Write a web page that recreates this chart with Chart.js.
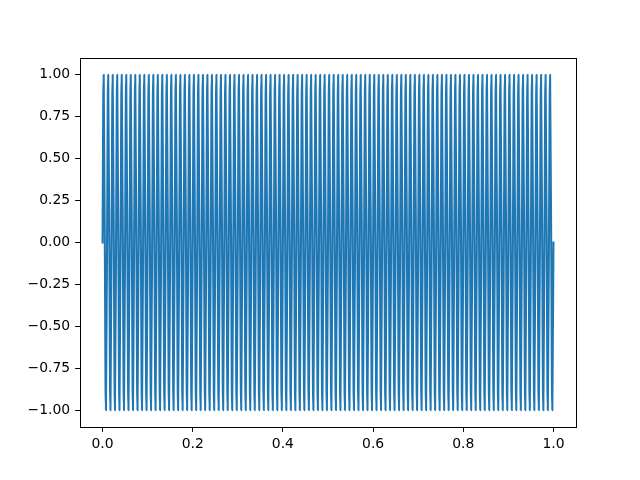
<!DOCTYPE html>
<html><head><meta charset="utf-8">
<script src="https://cdn.jsdelivr.net/npm/chart.js@4/dist/chart.umd.min.js"></script>
<style>html,body{margin:0;padding:0;background:#fff;}canvas{display:block;}</style>
</head><body>
<canvas id="c" width="640" height="480" style="width:640px;height:480px"></canvas>
<script>
// sample times (x): zero crossings and extremes of the oscillation, 0..1
const sampleTimes = [
0.00,0.0025,0.005,0.0075, 0.01,0.0125,0.015,0.0175, 0.02,0.0225,0.025,0.0275, 0.03,0.0325,0.035,0.0375, 0.04,0.0425,0.045,0.0475,
0.05,0.0525,0.055,0.0575, 0.06,0.0625,0.065,0.0675, 0.07,0.0725,0.075,0.0775, 0.08,0.0825,0.085,0.0875, 0.09,0.0925,0.095,0.0975,
0.10,0.1025,0.105,0.1075, 0.11,0.1125,0.115,0.1175, 0.12,0.1225,0.125,0.1275, 0.13,0.1325,0.135,0.1375, 0.14,0.1425,0.145,0.1475,
0.15,0.1525,0.155,0.1575, 0.16,0.1625,0.165,0.1675, 0.17,0.1725,0.175,0.1775, 0.18,0.1825,0.185,0.1875, 0.19,0.1925,0.195,0.1975,
0.20,0.2025,0.205,0.2075, 0.21,0.2125,0.215,0.2175, 0.22,0.2225,0.225,0.2275, 0.23,0.2325,0.235,0.2375, 0.24,0.2425,0.245,0.2475,
0.25,0.2525,0.255,0.2575, 0.26,0.2625,0.265,0.2675, 0.27,0.2725,0.275,0.2775, 0.28,0.2825,0.285,0.2875, 0.29,0.2925,0.295,0.2975,
0.30,0.3025,0.305,0.3075, 0.31,0.3125,0.315,0.3175, 0.32,0.3225,0.325,0.3275, 0.33,0.3325,0.335,0.3375, 0.34,0.3425,0.345,0.3475,
0.35,0.3525,0.355,0.3575, 0.36,0.3625,0.365,0.3675, 0.37,0.3725,0.375,0.3775, 0.38,0.3825,0.385,0.3875, 0.39,0.3925,0.395,0.3975,
0.40,0.4025,0.405,0.4075, 0.41,0.4125,0.415,0.4175, 0.42,0.4225,0.425,0.4275, 0.43,0.4325,0.435,0.4375, 0.44,0.4425,0.445,0.4475,
0.45,0.4525,0.455,0.4575, 0.46,0.4625,0.465,0.4675, 0.47,0.4725,0.475,0.4775, 0.48,0.4825,0.485,0.4875, 0.49,0.4925,0.495,0.4975,
0.50,0.5025,0.505,0.5075, 0.51,0.5125,0.515,0.5175, 0.52,0.5225,0.525,0.5275, 0.53,0.5325,0.535,0.5375, 0.54,0.5425,0.545,0.5475,
0.55,0.5525,0.555,0.5575, 0.56,0.5625,0.565,0.5675, 0.57,0.5725,0.575,0.5775, 0.58,0.5825,0.585,0.5875, 0.59,0.5925,0.595,0.5975,
0.60,0.6025,0.605,0.6075, 0.61,0.6125,0.615,0.6175, 0.62,0.6225,0.625,0.6275, 0.63,0.6325,0.635,0.6375, 0.64,0.6425,0.645,0.6475,
0.65,0.6525,0.655,0.6575, 0.66,0.6625,0.665,0.6675, 0.67,0.6725,0.675,0.6775, 0.68,0.6825,0.685,0.6875, 0.69,0.6925,0.695,0.6975,
0.70,0.7025,0.705,0.7075, 0.71,0.7125,0.715,0.7175, 0.72,0.7225,0.725,0.7275, 0.73,0.7325,0.735,0.7375, 0.74,0.7425,0.745,0.7475,
0.75,0.7525,0.755,0.7575, 0.76,0.7625,0.765,0.7675, 0.77,0.7725,0.775,0.7775, 0.78,0.7825,0.785,0.7875, 0.79,0.7925,0.795,0.7975,
0.80,0.8025,0.805,0.8075, 0.81,0.8125,0.815,0.8175, 0.82,0.8225,0.825,0.8275, 0.83,0.8325,0.835,0.8375, 0.84,0.8425,0.845,0.8475,
0.85,0.8525,0.855,0.8575, 0.86,0.8625,0.865,0.8675, 0.87,0.8725,0.875,0.8775, 0.88,0.8825,0.885,0.8875, 0.89,0.8925,0.895,0.8975,
0.90,0.9025,0.905,0.9075, 0.91,0.9125,0.915,0.9175, 0.92,0.9225,0.925,0.9275, 0.93,0.9325,0.935,0.9375, 0.94,0.9425,0.945,0.9475,
0.95,0.9525,0.955,0.9575, 0.96,0.9625,0.965,0.9675, 0.97,0.9725,0.975,0.9775, 0.98,0.9825,0.985,0.9875, 0.99,0.9925,0.995,0.9975,
1.00
];

// signal values at those times: 100 oscillations between +1 and -1
const signal = [
0,1,0,-1, 0,1,0,-1, 0,1,0,-1, 0,1,0,-1, 0,1,0,-1, 0,1,0,-1, 0,1,0,-1, 0,1,0,-1, 0,1,0,-1, 0,1,0,-1,
0,1,0,-1, 0,1,0,-1, 0,1,0,-1, 0,1,0,-1, 0,1,0,-1, 0,1,0,-1, 0,1,0,-1, 0,1,0,-1, 0,1,0,-1, 0,1,0,-1,
0,1,0,-1, 0,1,0,-1, 0,1,0,-1, 0,1,0,-1, 0,1,0,-1, 0,1,0,-1, 0,1,0,-1, 0,1,0,-1, 0,1,0,-1, 0,1,0,-1,
0,1,0,-1, 0,1,0,-1, 0,1,0,-1, 0,1,0,-1, 0,1,0,-1, 0,1,0,-1, 0,1,0,-1, 0,1,0,-1, 0,1,0,-1, 0,1,0,-1,
0,1,0,-1, 0,1,0,-1, 0,1,0,-1, 0,1,0,-1, 0,1,0,-1, 0,1,0,-1, 0,1,0,-1, 0,1,0,-1, 0,1,0,-1, 0,1,0,-1,
0,1,0,-1, 0,1,0,-1, 0,1,0,-1, 0,1,0,-1, 0,1,0,-1, 0,1,0,-1, 0,1,0,-1, 0,1,0,-1, 0,1,0,-1, 0,1,0,-1,
0,1,0,-1, 0,1,0,-1, 0,1,0,-1, 0,1,0,-1, 0,1,0,-1, 0,1,0,-1, 0,1,0,-1, 0,1,0,-1, 0,1,0,-1, 0,1,0,-1,
0,1,0,-1, 0,1,0,-1, 0,1,0,-1, 0,1,0,-1, 0,1,0,-1, 0,1,0,-1, 0,1,0,-1, 0,1,0,-1, 0,1,0,-1, 0,1,0,-1,
0,1,0,-1, 0,1,0,-1, 0,1,0,-1, 0,1,0,-1, 0,1,0,-1, 0,1,0,-1, 0,1,0,-1, 0,1,0,-1, 0,1,0,-1, 0,1,0,-1,
0,1,0,-1, 0,1,0,-1, 0,1,0,-1, 0,1,0,-1, 0,1,0,-1, 0,1,0,-1, 0,1,0,-1, 0,1,0,-1, 0,1,0,-1, 0,1,0,-1,
0,1,0,-1, 0,1,0,-1, 0,1,0,-1, 0,1,0,-1, 0,1,0,-1, 0,1,0,-1, 0,1,0,-1, 0,1,0,-1, 0,1,0,-1, 0,1,0,-1,
0,1,0,-1, 0,1,0,-1, 0,1,0,-1, 0,1,0,-1, 0,1,0,-1, 0,1,0,-1, 0,1,0,-1, 0,1,0,-1, 0,1,0,-1, 0,1,0,-1,
0,1,0,-1, 0,1,0,-1, 0,1,0,-1, 0,1,0,-1, 0,1,0,-1, 0,1,0,-1, 0,1,0,-1, 0,1,0,-1, 0,1,0,-1, 0,1,0,-1,
0,1,0,-1, 0,1,0,-1, 0,1,0,-1, 0,1,0,-1, 0,1,0,-1, 0,1,0,-1, 0,1,0,-1, 0,1,0,-1, 0,1,0,-1, 0,1,0,-1,
0,1,0,-1, 0,1,0,-1, 0,1,0,-1, 0,1,0,-1, 0,1,0,-1, 0,1,0,-1, 0,1,0,-1, 0,1,0,-1, 0,1,0,-1, 0,1,0,-1,
0,1,0,-1, 0,1,0,-1, 0,1,0,-1, 0,1,0,-1, 0,1,0,-1, 0,1,0,-1, 0,1,0,-1, 0,1,0,-1, 0,1,0,-1, 0,1,0,-1,
0,1,0,-1, 0,1,0,-1, 0,1,0,-1, 0,1,0,-1, 0,1,0,-1, 0,1,0,-1, 0,1,0,-1, 0,1,0,-1, 0,1,0,-1, 0,1,0,-1,
0,1,0,-1, 0,1,0,-1, 0,1,0,-1, 0,1,0,-1, 0,1,0,-1, 0,1,0,-1, 0,1,0,-1, 0,1,0,-1, 0,1,0,-1, 0,1,0,-1,
0,1,0,-1, 0,1,0,-1, 0,1,0,-1, 0,1,0,-1, 0,1,0,-1, 0,1,0,-1, 0,1,0,-1, 0,1,0,-1, 0,1,0,-1, 0,1,0,-1,
0,1,0,-1, 0,1,0,-1, 0,1,0,-1, 0,1,0,-1, 0,1,0,-1, 0,1,0,-1, 0,1,0,-1, 0,1,0,-1, 0,1,0,-1, 0,1,0,-1,
0
];

const xTickValues = [0, 0.2, 0.4, 0.6, 0.8, 1.0];
const xTickLabels = ['0.0', '0.2', '0.4', '0.6', '0.8', '1.0'];
const yTickValues = [-1, -0.75, -0.5, -0.25, 0, 0.25, 0.5, 0.75, 1];
const yTickLabels = ['\u22121.00', '\u22120.75', '\u22120.50', '\u22120.25', '0.00', '0.25', '0.50', '0.75', '1.00'];

const frame = {
  id: 'frame',
  afterDatasetsDraw(chart) {
    const { ctx, chartArea: a } = chart;
    ctx.save();
    ctx.strokeStyle = '#000';
    ctx.lineWidth = 1;
    const l = Math.round(a.left) + 0.5, r = Math.round(a.right) + 0.5;
    const t = Math.round(a.top) + 0.5, b = Math.round(a.bottom) + 0.5;
    ctx.strokeRect(l, t, r - l, b - t);
    ctx.restore();
  }
};

const font = { family: 'DejaVu Sans', size: 13.9 };

new Chart(document.getElementById('c'), {
  type: 'line',
  data: {
    labels: sampleTimes,
    datasets: [{
      data: signal,
      borderColor: '#1f77b4',
      borderWidth: 2.08,
      pointRadius: 0,
      tension: 0.45,
      fill: false,
      borderJoinStyle: 'round',
      borderCapStyle: 'square'
    }]
  },
  options: {
    responsive: false,
    animation: false,
    events: [],
    layout: { padding: { top: 58, right: 64, left: 0, bottom: 0 } },
    plugins: { legend: { display: false }, tooltip: { enabled: false } },
    scales: {
      x: {
        type: 'linear',
        min: -0.05, max: 1.05,
        afterBuildTicks: s => { s.ticks = xTickValues.map(v => ({ value: v })); },
        afterFit: s => { s.height = 53; },
        border: { display: false },
        grid: { display: true, drawOnChartArea: false, drawTicks: true, tickLength: 4.86, tickWidth: 1, tickColor: '#000' },
        ticks: { color: '#000', font, padding: 4, maxRotation: 0, autoSkip: false,
          callback: (v, i) => xTickLabels[i] }
      },
      y: {
        type: 'linear',
        min: -1.1, max: 1.1,
        afterBuildTicks: s => { s.ticks = yTickValues.map(v => ({ value: v })); },
        afterFit: s => { s.width = 80; },
        border: { display: false },
        grid: { display: true, drawOnChartArea: false, drawTicks: true, tickLength: 4.86, tickWidth: 1, tickColor: '#000' },
        ticks: { color: '#000', font, padding: 5, autoSkip: false,
          callback: (v, i) => yTickLabels[i] }
      }
    }
  },
  plugins: [frame]
});
</script>
</body></html>
